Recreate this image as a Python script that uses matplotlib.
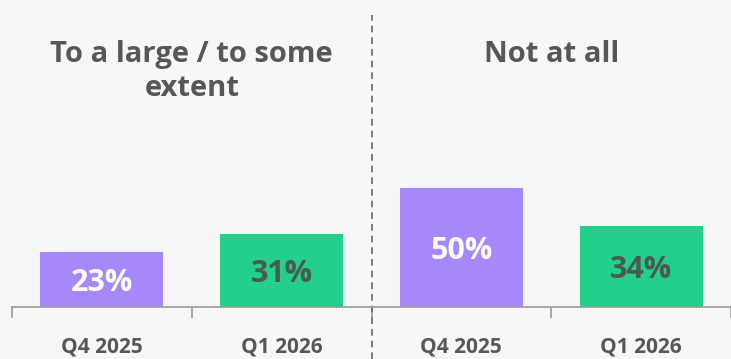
import matplotlib
matplotlib.use("Agg")
import matplotlib.pyplot as plt

# data
groups = ["To a large / to some\nextent", "Not at all"]
periods = ["Q4 2025", "Q1 2026"]
values_q4 = [23, 50]
values_q1 = [31, 34]

purple = "#a688fa"
green = "#22cf8b"
bg = "#f7f7f7"
text_grey = "#575757"

plt.rcParams["font.family"] = ["Open Sans", "DejaVu Sans"]

fig = plt.figure(figsize=(7.31, 3.59), dpi=100, facecolor=bg)
ax = fig.add_axes([12 / 731, 52 / 359, 719 / 731, 307 / 359])
ax.set_facecolor(bg)

xs, heights, colors, labels = [], [], [], []
for g in range(len(groups)):
    for p, (vals, col) in enumerate([(values_q4, purple), (values_q1, green)]):
        xs.append(2 * g + p)
        heights.append(vals[g])
        colors.append(col)
        labels.append(periods[p])

bars = ax.bar(xs, heights, width=0.685, color=colors)

for b, c in zip(bars, colors):
    tc = "white" if c == purple else "#4b5a51"
    ax.text(b.get_x() + b.get_width() / 2, b.get_height() / 2 - 1.5,
            f"{int(b.get_height())}%", ha="center", va="center",
            fontsize=22, fontweight="bold", color=tc)

ax.set_xlim(-0.5, 3.47)
ax.set_ylim(0, 129.5)

for s in ["top", "right", "left"]:
    ax.spines[s].set_visible(False)
ax.spines["bottom"].set_color("#9a9a9a")
ax.spines["bottom"].set_linewidth(1.2)
ax.set_yticks([])

# boundary ticks, labels on minor ticks
ax.set_xticks([-0.5, 0.5, 1.5, 2.5, 3.5])
ax.set_xticklabels([])
ax.tick_params(axis="x", which="major", length=8, color="#9a9a9a", width=1.2)
ax.set_xticks(xs, minor=True)
ax.set_xticklabels(labels, minor=True, fontsize=15, fontweight="bold", color=text_grey)
ax.tick_params(axis="x", which="minor", length=0, pad=21)

# dashed divider between the groups
ax.plot([1.5, 1.5], [-0.169, 0.951], transform=ax.get_xaxis_transform(),
        color="#666666", linestyle=(0, (4, 3)), linewidth=1.2, clip_on=False)

for g, name in enumerate(groups):
    ax.text(2 * g + 0.5, 0.87, name, transform=ax.get_xaxis_transform(),
            ha="center", va="top", fontsize=21, fontweight="bold",
            color=text_grey, linespacing=1.25)

fig.savefig("out.png", dpi=100, facecolor=bg)
